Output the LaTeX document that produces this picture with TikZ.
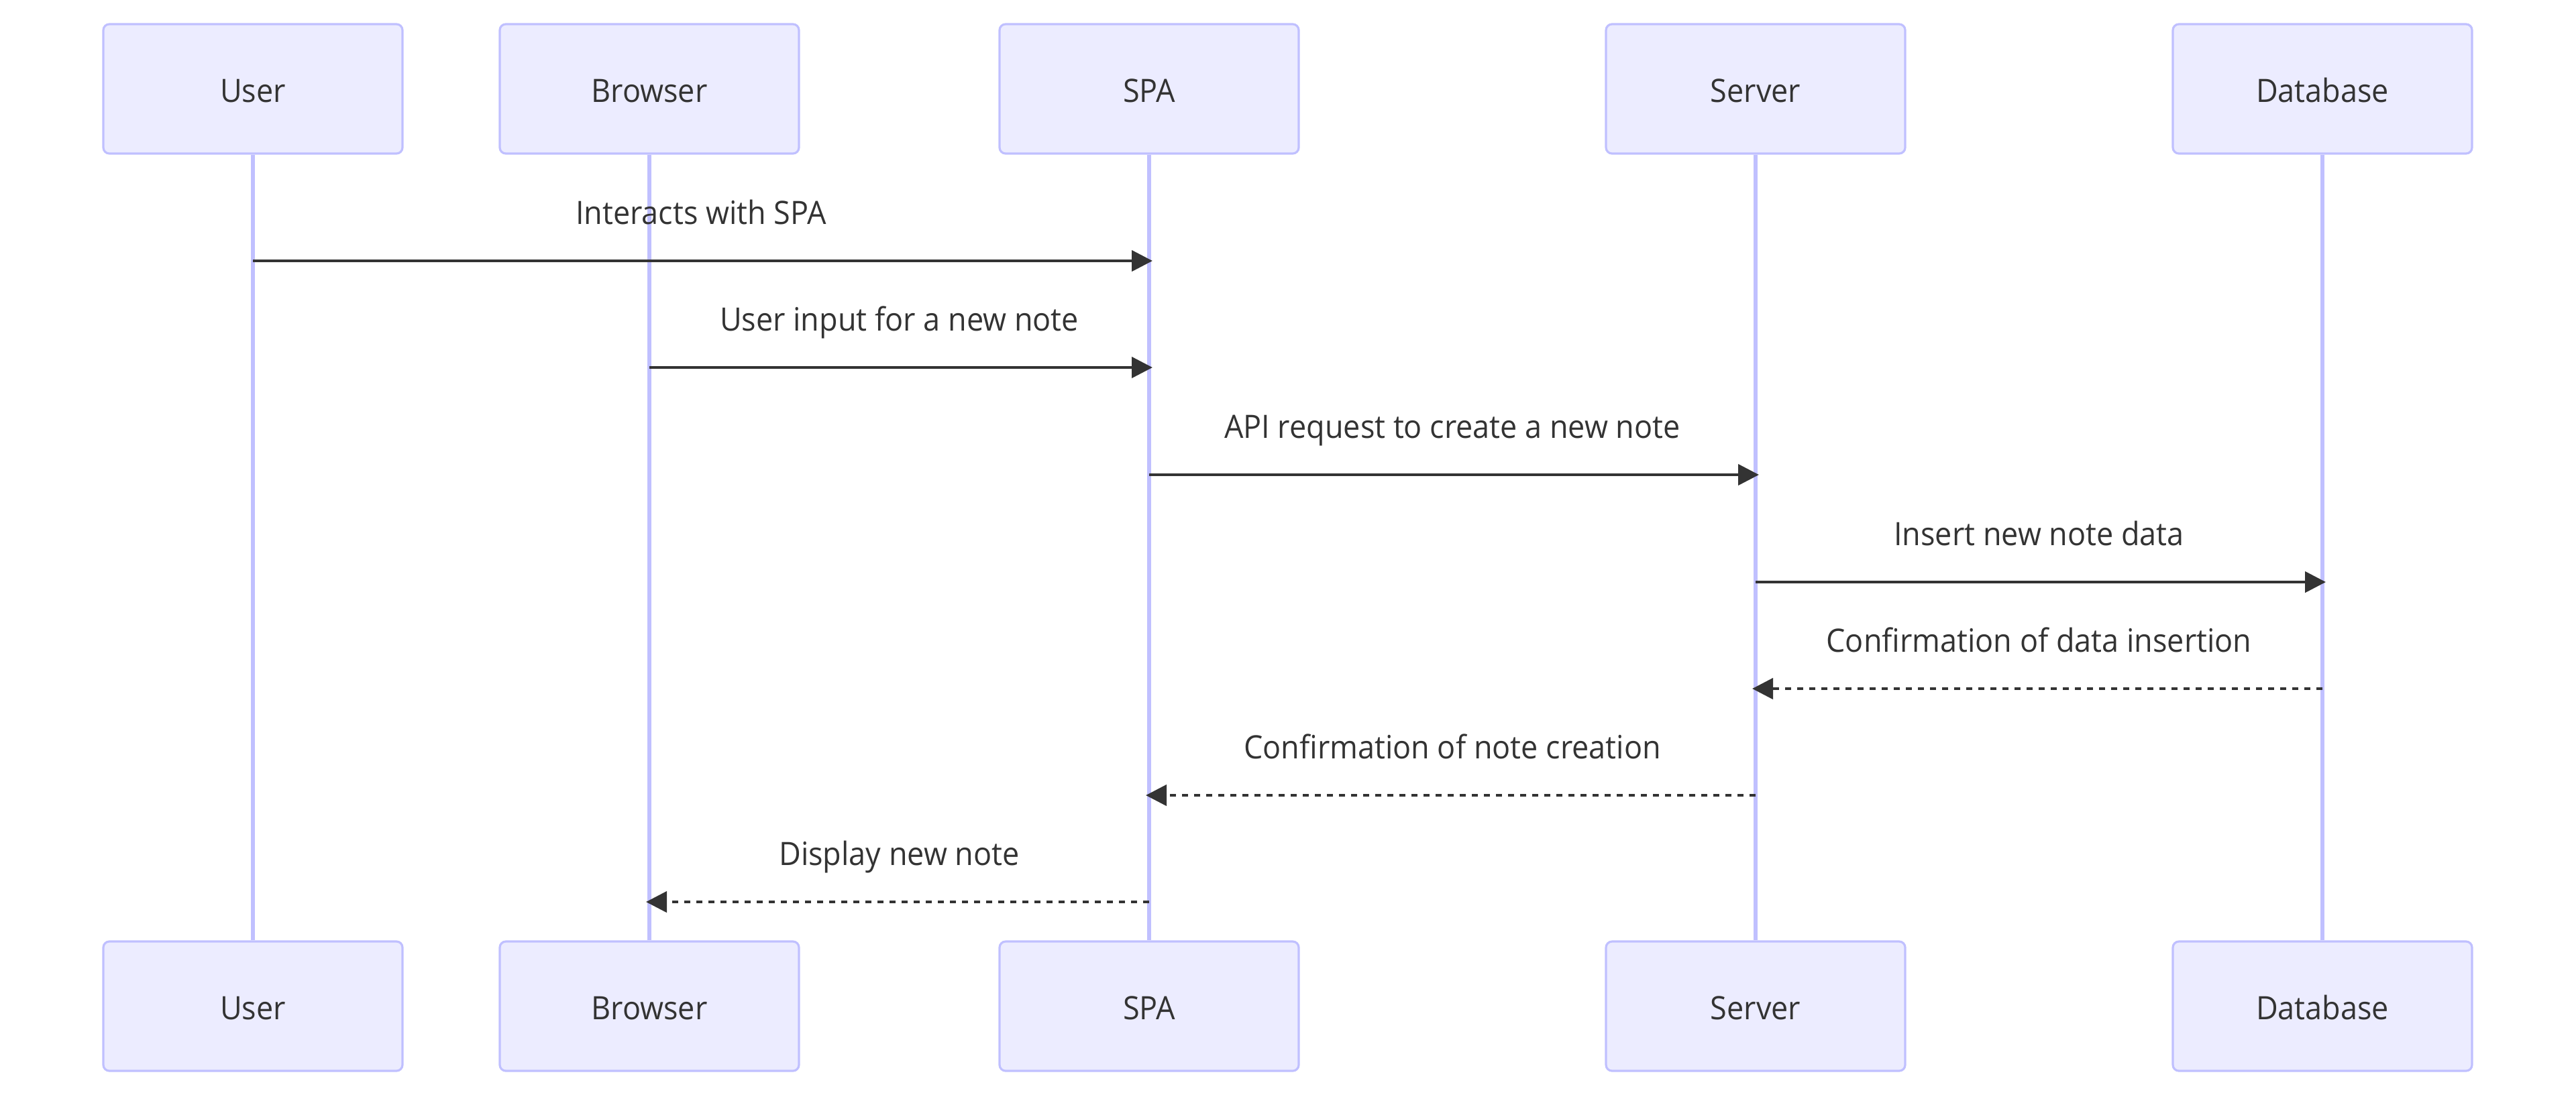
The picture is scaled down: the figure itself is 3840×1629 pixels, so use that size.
\documentclass[tikz,border=0pt]{standalone}
\usepackage{fontspec}
\setmainfont{Open Sans}[FakeStretch=0.937]
\usetikzlibrary{arrows.meta}

\tikzset{every picture/.style={line width=0.75pt}}
\tikzset{
    actorbox/.style={draw={rgb, 255:red, 192; green, 192; blue, 255 }, fill={rgb, 255:red, 236; green, 236; blue, 255 }, line width=0.8pt, rounded corners=2.25pt, minimum width=111.5pt, minimum height=48.25pt, inner sep=0pt, text height=10.1pt, text depth=0pt, text={rgb, 255:red, 51; green, 51; blue, 51 }, font=\fontsize{12}{14}\selectfont},
    lifeline/.style={draw={rgb, 255:red, 192; green, 192; blue, 255 }, line width=1.3pt},
    msg/.style={draw={rgb, 255:red, 51; green, 51; blue, 51 }, line width=1.1pt, -{Triangle[length=7.75pt,width=7.75pt]}, shorten >=-1.25pt},
    reply/.style={msg, dash pattern=on 2.25pt off 2.25pt},
    msglabel/.style={anchor=base, yshift=13.75pt, inner sep=0pt, text={rgb, 255:red, 51; green, 51; blue, 51 }, font=\fontsize{12}{14}\selectfont}
}

\begin{document}
\begin{tikzpicture}[x=0.25pt,y=0.25pt,yscale=-1,xscale=1]
        \useasboundingbox (0,0) rectangle (3840,1629);

        %Shape: Rectangle (top actors)
        \node [actorbox] (user) at (377,132.5) {User};
        \node [actorbox] (browser) at (968,132.5) {Browser};
        \node [actorbox] (spa) at (1713,132.5) {SPA};
        \node [actorbox] (server) at (2617,132.5) {Server};
        \node [actorbox] (db) at (3462,132.5) {Database};

        %Shape: Rectangle (bottom actors)
        \node [actorbox] (userB) at (377,1500.5) {User};
        \node [actorbox] (browserB) at (968,1500.5) {Browser};
        \node [actorbox] (spaB) at (1713,1500.5) {SPA};
        \node [actorbox] (serverB) at (2617,1500.5) {Server};
        \node [actorbox] (dbB) at (3462,1500.5) {Database};

        %Straight Lines (lifelines)
        \draw [lifeline] (user.south) -- (userB.north);
        \draw [lifeline] (browser.south) -- (browserB.north);
        \draw [lifeline] (spa.south) -- (spaB.north);
        \draw [lifeline] (server.south) -- (serverB.north);
        \draw [lifeline] (db.south) -- (dbB.north);

        % message rows
        \coordinate (r1) at (0,389);
        \coordinate (r2) at (0,548);
        \coordinate (r3) at (0,708);
        \coordinate (r4) at (0,868);
        \coordinate (r5) at (0,1027);
        \coordinate (r6) at (0,1186);
        \coordinate (r7) at (0,1345);

        %Straight Lines [messages]
        \draw [msg] (user |- r1) -- node [msglabel] (t1) {Interacts with SPA} (spa |- r1);
        \draw [msg] (browser |- r2) -- node [msglabel] (t2) {User input for a new note} (spa |- r2);
        \draw [msg] (spa |- r3) -- node [msglabel] (t3) {API request to create a new note} (server |- r3);
        \draw [msg] (server |- r4) -- node [msglabel] (t4) {Insert new note data} (db |- r4);
        %Straight Lines [replies]
        \draw [reply] (db |- r5) -- node [msglabel] (t5) {Confirmation of data insertion} (server |- r5);
        \draw [reply] (server |- r6) -- node [msglabel] (t6) {Confirmation of note creation} (spa |- r6);
        \draw [reply] (spa |- r7) -- node [msglabel] (t7) {Display new note} (browser |- r7);

\end{tikzpicture}
\end{document}
